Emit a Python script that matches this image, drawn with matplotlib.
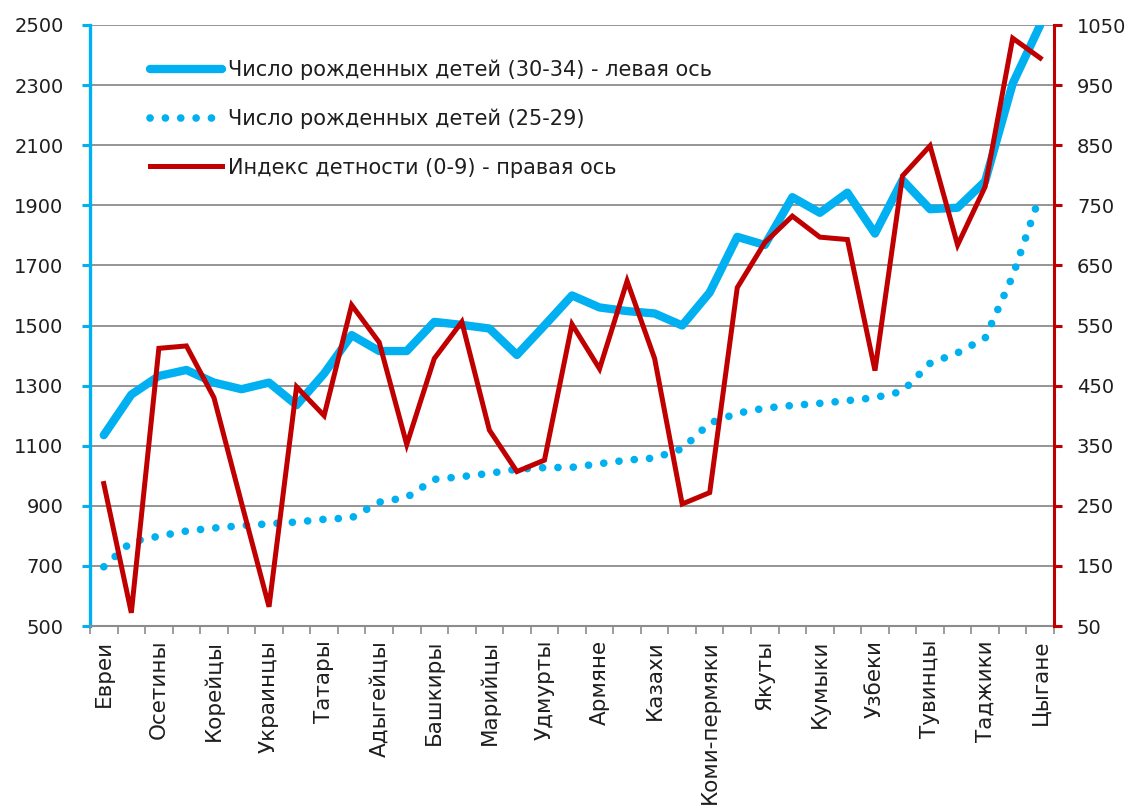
import numpy as np
import matplotlib
matplotlib.use("Agg")
import matplotlib.pyplot as plt

# ---- data ----
tick_labels = ["Евреи", "Осетины", "Корейцы", "Украинцы", "Татары", "Адыгейцы",
               "Башкиры", "Марийцы", "Удмурты", "Армяне", "Казахи", "Коми-пермяки",
               "Якуты", "Кумыки", "Узбеки", "Тувинцы", "Таджики", "Цыгане"]
n_categories = 35

births_30_34 = [1135, 1270, 1332, 1352, 1310, 1288, 1310, 1235, 1340, 1468,
                1415, 1415, 1512, 1502, 1490, 1402, 1500, 1600, 1560, 1548,
                1540, 1500, 1610, 1795, 1768, 1927, 1875, 1942, 1806, 1984,
                1887, 1892, 1980, 2305, 2500]
births_25_29 = [697, 780, 799, 816, 826, 834, 840, 846, 855, 860,
                912, 928, 988, 997, 1008, 1022, 1027, 1028, 1040, 1052,
                1059, 1090, 1175, 1208, 1225, 1234, 1241, 1250, 1260, 1281,
                1374, 1409, 1458, 1665, 1935]
child_index = [287, 72, 512, 516, 430, 255, 82, 448, 400, 584,
               522, 352, 495, 556, 376, 307, 326, 552, 478, 624,
               495, 253, 272, 613, 688, 732, 697, 693, 475, 799,
               849, 684, 781, 1028, 995]

label_30_34 = "Число рожденных детей (30-34) - левая ось"
label_25_29 = "Число рожденных детей (25-29)"
label_index = "Индекс детности (0-9) - правая ось"

left_ticks = [500, 700, 900, 1100, 1300, 1500, 1700, 1900, 2100, 2300, 2500]
right_ticks = [50, 150, 250, 350, 450, 550, 650, 750, 850, 950, 1050]

# ---- style ----
BLUE = "#00B0F0"
RED = "#C00000"
GRID = "#8C8C8C"
TXT = "#1E1E1E"
plt.rcParams["font.family"] = ["DejaVu Sans"]

W, H = 1133, 809
fig = plt.figure(figsize=(W / 100, H / 100), dpi=100)
x0, x1 = 90, 1054
y0, y1 = 25, 626
ax = fig.add_axes([x0 / W, 1 - y1 / H, (x1 - x0) / W, (y1 - y0) / H])
ax2 = ax.twinx()

x = np.arange(n_categories)

ax.set_xlim(-0.5, n_categories - 0.5)
ax.set_ylim(500, 2500)
ax2.set_ylim(50, 1050)

ax.yaxis.grid(True, color=GRID, linewidth=1.3)
ax.set_axisbelow(True)

l1, = ax.plot(x, births_30_34, color=BLUE, linewidth=6.0, solid_joinstyle="round",
              solid_capstyle="round", label=label_30_34, zorder=3)
l2, = ax.plot(x, births_25_29, color=BLUE, linewidth=5.5, linestyle=(0, (0.01, 2.0)),
              dash_capstyle="round", label=label_25_29, zorder=3)
l3, = ax2.plot(x, child_index, color=RED, linewidth=3.6, solid_joinstyle="miter",
               label=label_index, zorder=4)

# spines
for s in ["top", "right"]:
    ax.spines[s].set_visible(False)
for s in ["top", "left", "bottom"]:
    ax2.spines[s].set_visible(False)
ax.spines["left"].set_color(BLUE)
ax.spines["left"].set_linewidth(2.4)
ax.spines["bottom"].set_color(GRID)
ax.spines["bottom"].set_linewidth(1.5)
ax2.spines["right"].set_color(RED)
ax2.spines["right"].set_linewidth(2.2)

# x ticks
ax.set_xticks(np.arange(0, n_categories, 2))
ax.set_xticklabels(tick_labels, rotation=90, fontsize=15.5, color=TXT, va="top")
ax.set_xticks(np.arange(-0.5, n_categories, 1), minor=True)
ax.tick_params(axis="x", which="major", length=0, pad=10)
ax.tick_params(axis="x", which="minor", length=6, width=1.2, color=GRID)

# y ticks
ax.set_yticks(left_ticks)
ax.set_yticklabels([str(v) for v in left_ticks])
ax.tick_params(axis="y", which="major", length=6, width=2.2, color=BLUE,
               labelsize=14, labelcolor=TXT, pad=13)
ax2.set_yticks(right_ticks)
ax2.set_yticklabels([str(v) for v in right_ticks])
ax2.tick_params(axis="y", which="major", length=5.5, width=2.2, color=RED,
                labelsize=14, labelcolor=TXT, pad=11)

# legend
leg = ax.legend(handles=[l1, l2, l3], loc="upper left",
                bbox_to_anchor=(150 / W, 1 - 60 / H), bbox_transform=fig.transFigure,
                frameon=False, fontsize=15, handlelength=3.45, handletextpad=0.28,
                labelspacing=1.36, borderpad=0, borderaxespad=0)
for t in leg.get_texts():
    t.set_color(TXT)
leg.set_zorder(10)

fig.savefig("out.png", dpi=100)
